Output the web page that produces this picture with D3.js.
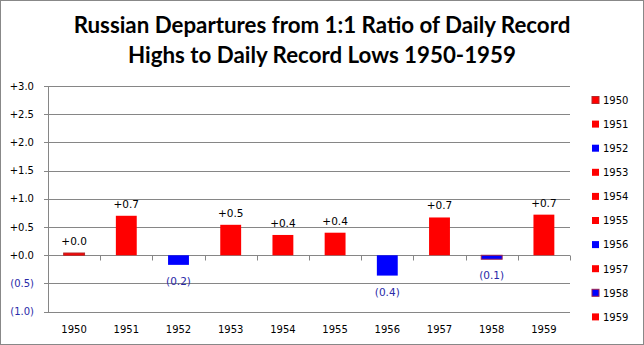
<!DOCTYPE html>
<html><head><meta charset="utf-8">
<script src="https://cdn.jsdelivr.net/npm/d3@7"></script>
<style>body{margin:0;background:#fff}svg{display:block}</style>
</head><body><svg id="c" width="644" height="345"></svg>
<script>
const years = ["1950","1951","1952","1953","1954","1955","1956","1957","1958","1959"];
const values = [0.04, 0.70, -0.17, 0.54, 0.36, 0.40, -0.36, 0.67, -0.07, 0.72];
const fills = ["#ff0000","#ff0000","#0000ff","#ff0000","#ff0000","#ff0000","#0000ff","#ff0000","#0000ff","#ff0000"];
const strokes = ["#b22a2a","none","none","none","none","none","none","none","#9b2050","none"];
const yTicks = [-1.0,-0.5,0,0.5,1.0,1.5,2.0,2.5,3.0];
const titleLines = ["Russian Departures from 1:1 Ratio of Daily Record","Highs to Daily Record Lows 1950-1959"];

const svg = d3.select("#c");
const W=644,H=345;
svg.append("rect").attr("x",0.5).attr("y",0.5).attr("width",W-1).attr("height",H-1).attr("fill","#fff").attr("stroke","#888");

const L=48, R=570, T=86, B=311.7;
const x = d3.scaleBand().domain(years).range([L,R]).paddingInner(0.6).paddingOuter(0.3);
const xc = d3.scaleBand().domain(years).range([L,R]);
const y = d3.scaleLinear().domain([-1,3]).range([B,T]);

const fmt = v => v<0 ? "("+Math.abs(v).toFixed(1)+")" : "+"+v.toFixed(1);

// grid
svg.append("g").selectAll("line").data(yTicks).join("line")
  .attr("x1",L-4).attr("x2",R).attr("y1",d=>Math.round(y(d))+0.5).attr("y2",d=>Math.round(y(d))+0.5)
  .attr("stroke","#868686").attr("stroke-width",1);
// y axis line
svg.append("line").attr("x1",L+0.5).attr("x2",L+0.5).attr("y1",T).attr("y2",B+0.5).attr("stroke","#868686");
// x ticks along zero line
const y0 = Math.round(y(0))+0.5;
const tickXs = years.slice(1).map(d=>xc(d)).concat([R]);
svg.append("g").selectAll("line").data(tickXs).join("line")
  .attr("x1",d=>Math.round(d)+0.5).attr("x2",d=>Math.round(d)+0.5)
  .attr("y1",y0).attr("y2",y0+5).attr("stroke","#868686");

// y labels
svg.append("g").selectAll("text").data(yTicks).join("text")
  .attr("x",34).attr("y",d=>y(d)+3.5).attr("text-anchor","end")
  .attr("font-family","DejaVu Sans").attr("font-size",10)
  .attr("fill",d=>d<0?"#2a2aa8":"#000").text(fmt);

// bars
svg.append("g").selectAll("rect").data(values).join("rect")
  .attr("x",(d,i)=>x(years[i])).attr("width",x.bandwidth())
  .attr("y",d=>y(Math.max(0,d))).attr("height",d=>Math.abs(y(d)-y(0)))
  .attr("fill",(d,i)=>fills[i]).attr("stroke",(d,i)=>strokes[i]).attr("stroke-width",1);

// data labels
svg.append("g").selectAll("text").data(values).join("text")
  .attr("x",(d,i)=>x(years[i])+x.bandwidth()/2)
  .attr("y",d=> d>=0 ? y(d)-8 : y(d)+20)
  .attr("text-anchor","middle").attr("font-family","DejaVu Sans").attr("font-size",10.5)
  .attr("fill",d=>d<0?"#2a2aa8":"#000").text(fmt);

// x labels
svg.append("g").selectAll("text").data(years).join("text")
  .attr("x",d=>xc(d)+xc.bandwidth()/2).attr("y",333).attr("text-anchor","middle")
  .attr("font-family","DejaVu Sans").attr("font-size",10).attr("fill","#000").text(d=>d);

// legend
const lg = svg.append("g").selectAll("g").data(years).join("g")
  .attr("transform",(d,i)=>`translate(592,${100+i*24.1})`);
lg.append("rect").attr("x",0).attr("y",-3.5).attr("width",7).attr("height",7)
  .attr("fill",(d,i)=>fills[i]).attr("stroke",(d,i)=>strokes[i]);
lg.append("text").attr("x",11).attr("y",3.8).attr("font-family","DejaVu Sans").attr("font-size",10).text(d=>d);

// title
const titles = svg.append("g").selectAll("text").data(titleLines).join("text")
  .attr("x",322).attr("y",(d,i)=>33+i*30).attr("text-anchor","middle")
  .attr("font-family","Lato, 'Open Sans', sans-serif").attr("font-weight","bold").attr("font-size",22)
  .attr("fill","#000").text(d=>d);
const w1 = titles.node().getComputedTextLength();
const fs = Math.min(26, 22*497/w1);
titles.attr("font-size",fs);
</script></body></html>
